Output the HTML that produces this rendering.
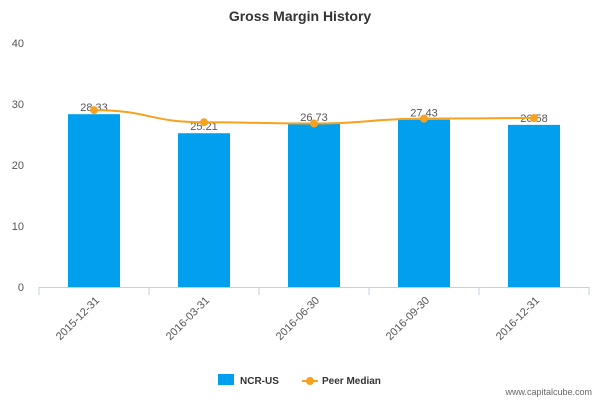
<!DOCTYPE html>
<html><head><meta charset="utf-8"><style>
body{margin:0;background:#fff;font-family:"Liberation Sans",sans-serif}
</style></head><body>
<svg id="c" width="600" height="400" xmlns="http://www.w3.org/2000/svg">
<text x="300" y="21" text-anchor="middle" font-size="14" font-weight="bold" fill="#333">Gross Margin History</text>
<g id="grid"></g><g id="bars"></g><g id="line"></g><g id="xl"></g>
<g>
<rect x="218" y="374" width="16" height="11" fill="#00a0ef"/>
<text x="240" y="384" font-size="10" font-weight="bold" fill="#333">NCR-US</text>
<line x1="302" y1="381" x2="318" y2="381" stroke="#f8a11e" stroke-width="2"/>
<circle cx="310" cy="381" r="4" fill="#f8a11e"/>
<text x="322" y="384" font-size="10" font-weight="bold" fill="#333">Peer Median</text>
</g>
<text x="592" y="395" text-anchor="end" font-size="9" fill="#666">www.capitalcube.com</text>
</svg>
<script>
const categories=["2015-12-31","2016-03-31","2016-06-30","2016-09-30","2016-12-31"];
const ncrValues=[28.33,25.21,26.73,27.43,26.58];
const peerValues=[29.0,27.0,26.8,27.6,27.7];
const yTicks=[0,10,20,30,40];
const NS="http://www.w3.org/2000/svg";
const x0=39,x1=589,yB=287,yT=43,yMax=40;
const bw=(x1-x0)/categories.length;
const y=v=>yB-(v/yMax)*(yB-yT);
const xc=i=>x0+bw*(i+0.5);
function mk(t,a,p){const e=document.createElementNS(NS,t);for(const k in a)e.setAttribute(k,a[k]);p.appendChild(e);return e;}
const g=document.getElementById('grid');
yTicks.forEach(v=>{const t=mk('text',{x:24,y:y(v)+4,'text-anchor':'end','font-size':11,fill:'#555'},g);t.textContent=v;

});
const ax=mk('line',{x1:x0,y1:yB+0.5,x2:x1,y2:yB+0.5,stroke:'#c0d0e0'},g);


for(let i=0;i<=categories.length;i++){mk('line',{x1:x0+bw*i,y1:yB,x2:x0+bw*i,y2:yB+8,stroke:'#c0d0e0'},g);}
const b=document.getElementById('bars');
ncrValues.forEach((v,i)=>{const r=mk('rect',{x:xc(i)-26,y:y(v),width:52,height:yB-y(v),fill:'#00a0ef'},b);


const t=mk('text',{x:xc(i),y:y(v)-3,'text-anchor':'middle','font-size':11,fill:'#555'},b);t.textContent=v.toFixed(2);

});
const l=document.getElementById('line');
const pts=peerValues.map((v,i)=>[xc(i),y(v)]);
let d='M'+pts[0];
for(let i=1;i<pts.length;i++){const p0=pts[i-1],p1=pts[i],mx=(p0[0]+p1[0])/2;d+=` C${mx},${p0[1]} ${mx},${p1[1]} ${p1[0]},${p1[1]}`;}
const pl=mk('path',{d:d,fill:'none',stroke:'#f8a11e','stroke-width':2},l);


pts.forEach(p=>{const c=mk('circle',{cx:p[0],cy:p[1],r:4,fill:'#f8a11e'},l);

});
const xl=document.getElementById('xl');
categories.forEach((c,i)=>{const t=mk('text',{x:xc(i)+6,y:yB+14,'text-anchor':'end','font-size':11,fill:'#555',transform:`rotate(-45 ${xc(i)+6} ${yB+14})`},xl);t.textContent=c;

});
</script>
</body></html>
